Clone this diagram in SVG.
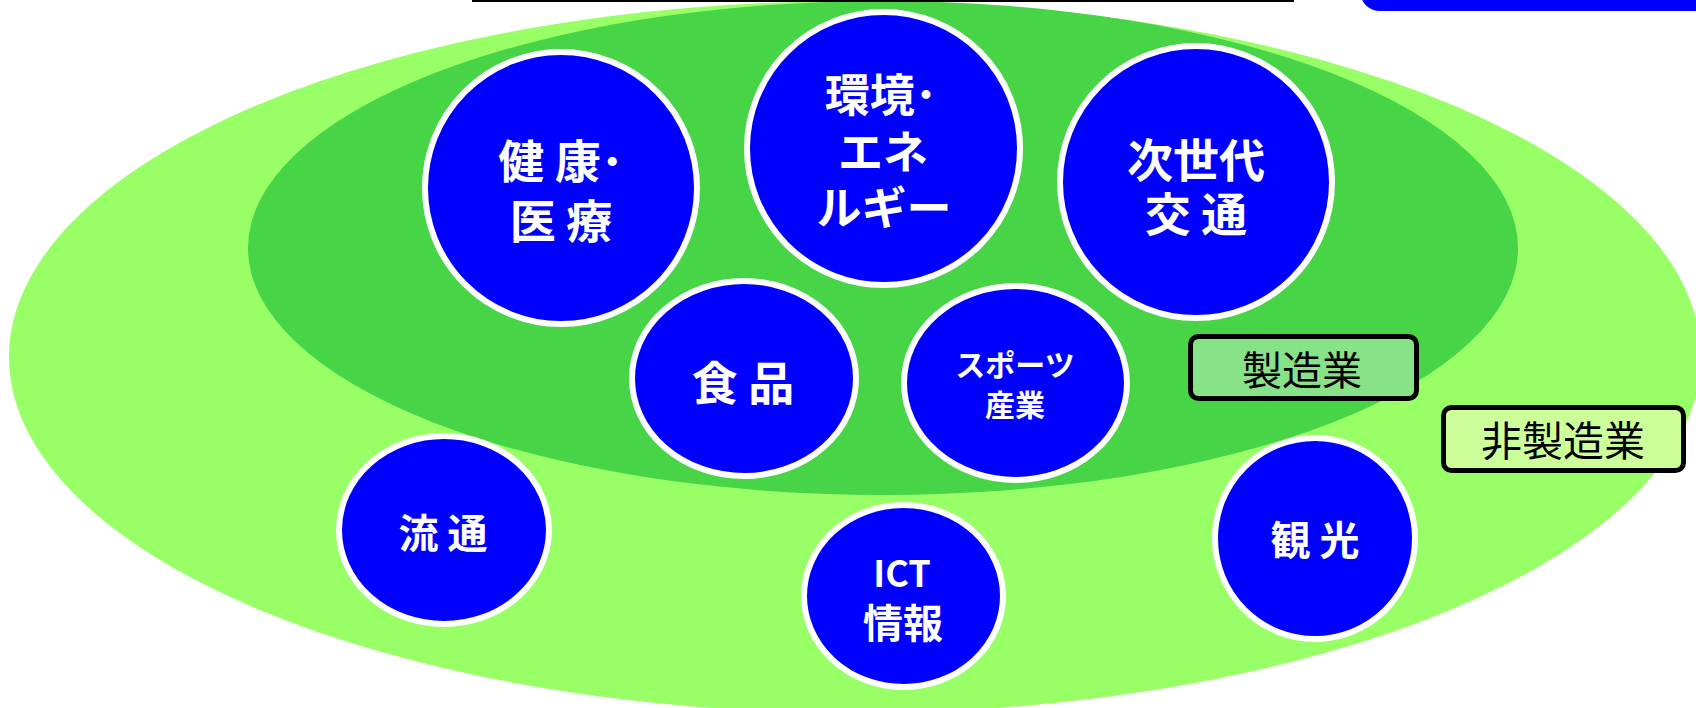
<svg xmlns="http://www.w3.org/2000/svg" width="1696" height="708" viewBox="0 0 1696 708">
<style>
.node{fill:#0000FF;stroke:#FFFFFF;stroke-width:6}
.nt{font-family:"Noto Sans CJK JP","Noto Sans",sans-serif;font-weight:bold;fill:#FFFFFF;text-anchor:middle;dominant-baseline:central}
.lb{stroke:#000000;stroke-width:5}
.lt{font-family:"Noto Sans CJK JP","Noto Sans",sans-serif;fill:#000000;text-anchor:middle;dominant-baseline:central}
</style>
<rect width="1696" height="708" fill="#FFFFFF"/>
<g id="nonmanufacturing-area">
<ellipse cx="855" cy="357" rx="846" ry="356" fill="#99FF66"/>
</g>
<g id="manufacturing-area">
<ellipse cx="883" cy="248" rx="635" ry="247" fill="#47D547"/>
</g>
<g id="header">
<rect x="1360" y="-30" width="400" height="41" rx="20" fill="#0000FF"/>
<line x1="472" y1="1" x2="1294" y2="1" stroke="#000000" stroke-width="2"/>
</g>
<g id="connectors"></g>
<g id="node-health">
<circle class="node" cx="561" cy="188" r="136"/>
<text class="nt" font-size="46"><tspan x="561" y="158">健 康･</tspan><tspan x="561" y="218">医 療</tspan></text>
</g>
<g id="node-energy">
<circle class="node" cx="883.5" cy="148.5" r="136.5"/>
<text class="nt" font-size="45"><tspan x="881" y="92">環境･</tspan><tspan x="883" y="149">エネ</tspan><tspan x="884" y="205">ルギー</tspan></text>
</g>
<g id="node-transport">
<circle class="node" cx="1196" cy="182" r="136"/>
<text class="nt" font-size="46"><tspan x="1196" y="157">次世代</tspan><tspan x="1196" y="211">交 通</tspan></text>
</g>
<g id="node-food">
<ellipse class="node" cx="744" cy="378.5" rx="112" ry="97.5"/>
<text class="nt" font-size="46" x="743" y="379.5">食 品</text>
</g>
<g id="node-sports">
<ellipse class="node" cx="1015.5" cy="383" rx="111.5" ry="97"/>
<text class="nt" font-size="30"><tspan x="1015" y="363">スポーツ</tspan><tspan x="1015" y="403">産業</tspan></text>
</g>
<g id="node-distribution">
<ellipse class="node" cx="444" cy="530" rx="105" ry="94"/>
<text class="nt" font-size="40" x="443" y="531">流 通</text>
</g>
<g id="node-ict">
<ellipse class="node" cx="903.5" cy="596" rx="99.5" ry="91"/>
<text class="nt"><tspan font-size="36" x="902" y="571">ICT</tspan><tspan font-size="40" x="903" y="621">情報</tspan></text>
</g>
<g id="node-tourism">
<ellipse class="node" cx="1315" cy="538.5" rx="100" ry="100.5"/>
<text class="nt" font-size="40" x="1315" y="537.5">観 光</text>
</g>
<g id="label-manufacturing">
<rect class="lb" x="1190.5" y="336.5" width="226" height="62" rx="8" fill="#88E388"/>
<text class="lt" font-size="40" x="1302" y="368">製造業</text>
</g>
<g id="label-nonmanufacturing">
<rect class="lb" x="1443.5" y="407.5" width="240" height="63" rx="8" fill="#CCFF99"/>
<text class="lt" font-size="41" x="1563" y="438">非製造業</text>
</g>
</svg>
